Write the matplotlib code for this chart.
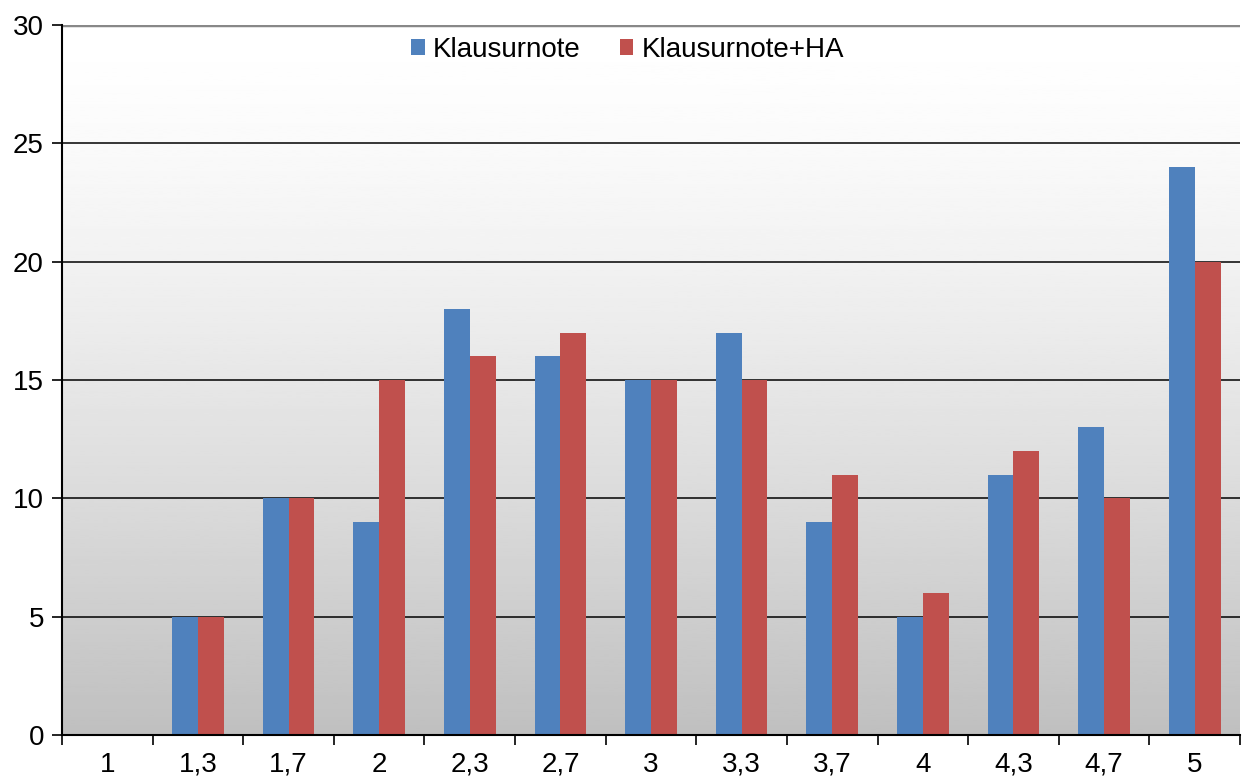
import matplotlib.pyplot as plt
import numpy as np

plt.rcParams['font.family'] = ['Liberation Sans', 'DejaVu Sans']

categories = ['1', '1,3', '1,7', '2', '2,3', '2,7', '3', '3,3', '3,7', '4', '4,3', '4,7', '5']
klausur = [0, 5, 10, 9, 18, 16, 15, 17, 9, 5, 11, 13, 24]
klausur_ha = [0, 5, 10, 15, 16, 17, 15, 15, 11, 6, 12, 10, 20]

fig = plt.figure(figsize=(12.43, 7.82), dpi=100)
ax = fig.add_axes([62 / 1243, 47 / 782, (1240 - 62) / 1243, (757 - 47) / 782])

x = np.arange(len(categories))
w = 0.285

# gradient background (white at top -> gray at bottom)
t = np.linspace(0, 1, 256)
grad = 1 - (1 - 0.75) * t ** 1.4
ax.imshow(grad[:, None], extent=[-0.5, len(categories) - 0.5, 0, 30],
          aspect='auto', cmap='gray', vmin=0, vmax=1, zorder=0, origin='upper')
ax.set_xlim(-0.5, len(categories) - 0.5)
ax.set_ylim(0, 30)

for y in [5, 10, 15, 20, 25]:
    ax.axhline(y, color='black', lw=1.1, zorder=1)
ax.axhline(30, color='#888888', lw=2.5, zorder=1)

ax.bar(x - w / 2, klausur, w, color='#4F81BD', label='Klausurnote', zorder=2)
ax.bar(x + w / 2, klausur_ha, w, color='#C0504D', label='Klausurnote+HA', zorder=2)

ax.set_yticks(range(0, 31, 5))
ax.set_xticks(x)
ax.set_xticklabels(categories)
ax.set_xticks(np.arange(-0.5, len(categories), 1), minor=True)
ax.tick_params(axis='x', which='major', length=0, labelsize=20, pad=12)
ax.tick_params(axis='x', which='minor', length=7, width=1.2, direction='out')
ax.tick_params(axis='y', length=7, width=1.2, labelsize=20, direction='out', pad=6)

for s in ['top', 'right']:
    ax.spines[s].set_visible(False)
ax.spines['left'].set_linewidth(1.5)
ax.spines['bottom'].set_linewidth(1.5)

ax.legend(loc='upper center', bbox_to_anchor=(0.48, 1.018), ncol=2, frameon=False,
          fontsize=20, handlelength=0.5, handleheight=0.5, handletextpad=0.3,
          columnspacing=1.4)

fig.savefig('out.png', dpi=100)
